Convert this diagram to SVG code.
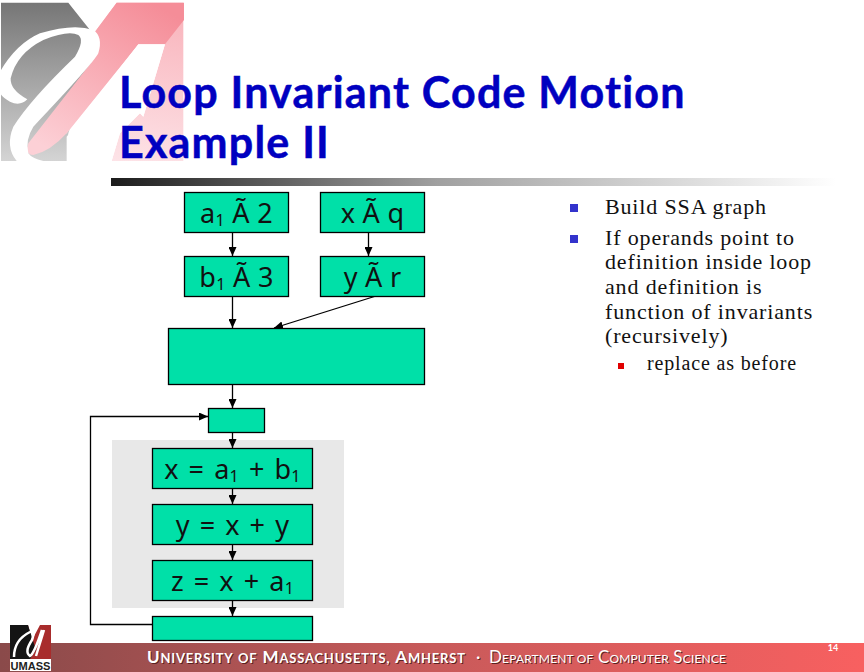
<svg xmlns="http://www.w3.org/2000/svg" width="864" height="672" viewBox="0 0 864 672">
<style>
.n{fill:#00e0a8;stroke:#000;stroke-width:1.3}
.c{fill:none;stroke:#000;stroke-width:1.3}
.b{font-family:"Noto Sans",sans-serif;font-size:27px;fill:#111;text-anchor:middle;letter-spacing:.3px}
.q{word-spacing:2.5px}
.s{font-size:16px}
.t{font-family:"Lato",sans-serif;font-weight:700;font-size:43px;fill:#0000c0;stroke:#0000c0;stroke-width:.5;letter-spacing:1.2px;font-variant-ligatures:none}
.d{font-family:"Liberation Serif",serif;font-size:22px;fill:#111;letter-spacing:.85px}
.e{font-size:20px;letter-spacing:.85px}
.f{font-family:"Lato",sans-serif;font-size:17px;fill:#fff;text-shadow:1px 1px 0 #5a2020;font-variant-ligatures:none}
.fs{font-size:13px}
.g{font-size:12px}
</style>
<defs>
<linearGradient id="bg" x1="0" y1="0" x2="0" y2="1"><stop offset="0" stop-color="#767676"/><stop offset="1" stop-color="#d4d4d4"/></linearGradient>
<linearGradient id="pg" x1="0.7" y1="0" x2="0.5" y2="1"><stop offset="0" stop-color="#f9b4bc"/><stop offset="1" stop-color="#fde4e8"/></linearGradient>
<linearGradient id="pg2" x1="0.8" y1="0" x2="0.2" y2="1"><stop offset="0" stop-color="#f58d98"/><stop offset="1" stop-color="#fcd0d6"/></linearGradient>
<linearGradient id="bar" x1="0" y1="0" x2="1" y2="0"><stop offset="0" stop-color="#1c1c1c"/><stop offset="0.45" stop-color="#a0a0a0"/><stop offset="1" stop-color="#ffffff"/></linearGradient>
<linearGradient id="foot" x1="0" y1="0" x2="1" y2="0"><stop offset="0" stop-color="#8a4a4a"/><stop offset="0.5" stop-color="#c85a5a"/><stop offset="1" stop-color="#f86060"/></linearGradient>
<marker id="a" markerWidth="9" markerHeight="8" refX="9" refY="4" orient="auto" markerUnits="userSpaceOnUse"><path d="M0 0L9 4L0 8z" fill="#000"/></marker>
</defs>
<rect width="864" height="672" fill="#fff"/>
<g id="logo" transform="scale(.3333)">
<path d="M3 8H205L270 90L300 110L205 400V483H3z" fill="url(#bg)"/>
<path d="M350 8H550V483H335L360 400L420 340L430 350L495 133H415L200 400L60 470L280 180L285 95z" fill="url(#pg)"/>
<path d="M350 8H552V60L495 133H415L200 400Q150 455 100 465Q75 465 85 430L280 180Q305 130 285 95z" fill="url(#pg2)"/>
<path d="M415 133H495L430 350L420 340L360 400L335 483H200V410z" fill="#fff"/>
<path d="M0 215Q50 130 120 100Q220 70 280 90Q310 110 295 160Q280 190 100 380Q75 420 85 460Q95 475 130 483H50Q15 440 40 380Q90 300 225 170Q255 120 235 105Q205 90 130 120Q50 160 32 235Q30 270 82 298Q60 320 30 305Q10 295 0 280z" fill="#fff"/>
</g>
<g id="title">
<text class="t" x="119" y="108">Loop Invariant Code Motion</text>
<text class="t" x="119" y="158">Example II</text>
<rect x="111" y="178" width="725" height="8" fill="url(#bar)"/>
</g>
<rect id="loop-bg" x="112" y="440" width="232" height="168" fill="#e8e8e8"/>
<g id="connectors">
<path class="c" d="M232.500 232V256" marker-end="url(#a)"/>
<path class="c" d="M368.500 232V256" marker-end="url(#a)"/>
<path class="c" d="M232.500 296V328" marker-end="url(#a)"/>
<path class="c" d="M376 296L274 328" marker-end="url(#a)"/>
<path class="c" d="M232.500 384V408" marker-end="url(#a)"/>
<path class="c" d="M232.500 432V448" marker-end="url(#a)"/>
<path class="c" d="M232.500 488V504" marker-end="url(#a)"/>
<path class="c" d="M232.500 544V560" marker-end="url(#a)"/>
<path class="c" d="M232.500 600V616" marker-end="url(#a)"/>
<path class="c" d="M152 624.500H90.500V416.500H208" marker-end="url(#a)"/>
</g>
<g id="n1"><rect class="n" x="184.500" y="192.500" width="104" height="40"/><text class="b" x="236.500" y="223">a<tspan class="s" dy="3">1</tspan><tspan dy="-3"> Ã 2</tspan></text></g>
<g id="n2"><rect class="n" x="320.500" y="192.500" width="104" height="40"/><text class="b" x="372.500" y="223">x Ã q</text></g>
<g id="n3"><rect class="n" x="184.500" y="256.500" width="104" height="40"/><text class="b" x="236.500" y="287">b<tspan class="s" dy="3">1</tspan><tspan dy="-3"> Ã 3</tspan></text></g>
<g id="n4"><rect class="n" x="320.500" y="256.500" width="104" height="40"/><text class="b" x="372.500" y="287">y Ã r</text></g>
<g id="n5"><rect class="n" x="168.500" y="328.500" width="256" height="56"/></g>
<g id="n6"><rect class="n" x="208.500" y="408.500" width="56" height="24"/></g>
<g id="n7"><rect class="n" x="152.500" y="448.500" width="160" height="40"/><text class="b q" x="232.500" y="479">x = a<tspan class="s" dy="3">1</tspan><tspan dy="-3"> + b</tspan><tspan class="s" dy="3">1</tspan></text></g>
<g id="n8"><rect class="n" x="152.500" y="504.500" width="160" height="40"/><text class="b q" x="232.500" y="535">y = x + y</text></g>
<g id="n9"><rect class="n" x="152.500" y="560.500" width="160" height="40"/><text class="b q" x="232.500" y="591">z = x + a<tspan class="s" dy="3">1</tspan></text></g>
<g id="n10"><rect class="n" x="152.500" y="616.500" width="160" height="24"/></g>
<g id="footer">
<rect x="0" y="643" width="864" height="29" fill="url(#foot)"/>
<rect x="10" y="625" width="41" height="46" fill="#fff"/>
<path d="M10 625H28L32 640L40 625H51V659H10z" fill="#a82c2c"/>
<path d="M10 625H28L36 650L30 659H10z" fill="#141414"/>
<path d="M14 657Q14 640 30 632Q36 628 32 640Q24 652 30 656Q34 654 42 630M44 630L36 656" fill="none" stroke="#fff" stroke-width="2.500"/>
<text x="30.500" y="670" font-family="Liberation Sans,sans-serif" font-weight="700" font-size="11" fill="#222" text-anchor="middle" textLength="40" lengthAdjust="spacingAndGlyphs">UMASS</text>
<text class="f" x="147" y="663" font-weight="700" textLength="318">U<tspan class="fs">NIVERSITY</tspan><tspan class="fs" dx="5">OF</tspan><tspan dx="5">M</tspan><tspan class="fs">ASSACHUSETTS,</tspan><tspan dx="5">A</tspan><tspan class="fs">MHERST</tspan></text>
<text class="f" x="476" y="663">·</text>
<text class="f" x="489" y="663" textLength="237">D<tspan class="g">EPARTMENT OF</tspan> C<tspan class="g">OMPUTER</tspan> S<tspan class="g">CIENCE</tspan></text>
<text x="833" y="651" font-family="Lato,sans-serif" font-size="9px" font-weight="700" fill="#fff" text-anchor="middle">14</text>
</g>
<g id="bullets">
<rect x="570" y="204" width="8" height="8" fill="#3333cc"/>
<rect x="570" y="235" width="8" height="8" fill="#3333cc"/>
<rect x="618" y="363" width="6" height="6" fill="#e00000"/>
<text class="d" x="605" y="214">Build SSA graph</text>
<text class="d" x="605" y="245">If operands point to</text>
<text class="d" x="605" y="269">definition inside loop</text>
<text class="d" x="605" y="294">and definition is</text>
<text class="d" x="605" y="319">function of invariants</text>
<text class="d" x="605" y="343">(recursively)</text>
<text class="d e" x="647" y="370">replace as before</text>
</g>
</svg>
